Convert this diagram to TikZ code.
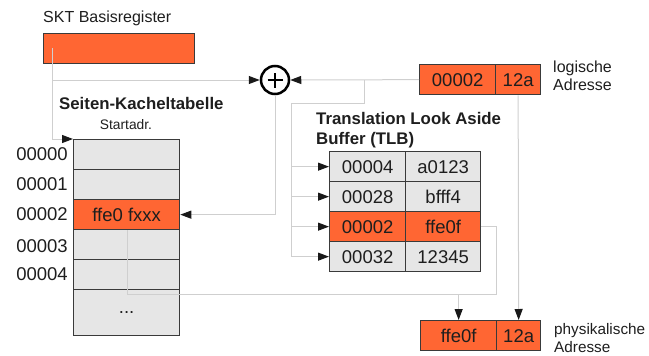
\documentclass[tikz,border=0pt]{standalone}
\usepackage{fontspec}
\setmainfont{Liberation Sans}
\usetikzlibrary{arrows.meta}
\definecolor{org}{HTML}{FF6633}
\definecolor{cellgray}{HTML}{E6E6E6}
\definecolor{edgec}{HTML}{3A3A3A}
\definecolor{connc}{HTML}{CFCFCF}
\definecolor{txt}{HTML}{1E1E1E}
\begin{document}
\begin{tikzpicture}[x=1pt,y=-1pt,
  cell/.style={draw=edgec, line width=1.3pt, fill=cellgray, anchor=north west, inner sep=0pt,
     minimum height=30pt, text=txt, font=\fontsize{18.5}{20}\selectfont},
  ocell/.style={cell, fill=org},
  conn/.style={draw=connc, line width=1pt},
  arr/.style={-{Triangle[length=11pt,width=8pt,color=black!90]}},
  lbl/.style={text=txt, inner sep=0pt, font=\fontsize{16}{18}\selectfont, align=left},
  rowlbl/.style={text=txt, inner sep=0pt, anchor=east, font=\fontsize{18.5}{20}\selectfont}
]
\useasboundingbox (0,0) rectangle (649,356);

% SKT base register
\node[lbl, anchor=west] (sktlbl) at (43,18) {SKT Basisregister};
\node[ocell, minimum width=151pt] (skt) at (43,33) {};

% page table
\node[text=txt, inner sep=0pt, anchor=west, font=\bfseries\fontsize{16.8}{20}\selectfont] (pttitle) at (59,103) {Seiten-Kacheltabelle};
\node[text=txt, inner sep=0pt, font=\fontsize{13.8}{15}\selectfont] (startadr) at (126,125) {Startadr.};
\node[cell, minimum width=106pt] (p0) at (73,139) {};
\node[cell, minimum width=106pt] (p1) at (73,169) {};
\node[ocell, minimum width=106pt] (p2) at (73,199) {ffe0 fxxx};
\node[cell, minimum width=106pt] (p3) at (73,229) {};
\node[cell, minimum width=106pt] (p4) at (73,259) {};
\node[cell, minimum width=106pt, minimum height=46pt] (p5) at (73,289) {...};
\node[rowlbl] (r0) at (68,154) {00000};
\node[rowlbl] (r1) at (68,184) {00001};
\node[rowlbl] (r2) at (68,214) {00002};
\node[rowlbl] (r3) at (68,246) {00003};
\node[rowlbl] (r4) at (68,274) {00004};

% adder
\node[circle, draw=black, line width=2.5pt, minimum size=28pt, inner sep=0pt] (plus) at (275,80) {};
\draw[line width=2.6pt] ([xshift=-7.5pt]plus.center) -- ([xshift=7.5pt]plus.center);
\draw[line width=2.6pt] ([yshift=-7.5pt]plus.center) -- ([yshift=7.5pt]plus.center);

% logical address
\node[ocell, minimum width=76pt] (la) at (419,64) {00002};
\node[ocell, minimum width=45pt] (lb) at (495,64) {12a};
\node[lbl, anchor=west] (loglbl) at (553,76) {logische\\Adresse};

% TLB
\node[text=txt, inner sep=0pt, anchor=north west, align=left, font=\bfseries\fontsize{16.8}{20}\selectfont] (tlbtitle) at (316,112) {Translation Look Aside\\Buffer (TLB)};
\node[cell, minimum width=76pt] (t1a) at (329,151) {00004};
\node[cell, minimum width=75pt] (t1b) at (405,151) {a0123};
\node[cell, minimum width=76pt] (t2a) at (329,181) {00028};
\node[cell, minimum width=75pt] (t2b) at (405,181) {bfff4};
\node[ocell, minimum width=76pt] (t3a) at (329,211) {00002};
\node[ocell, minimum width=75pt] (t3b) at (405,211) {ffe0f};
\node[cell, minimum width=76pt] (t4a) at (329,241) {00032};
\node[cell, minimum width=75pt] (t4b) at (405,241) {12345};

% physical address
\node[ocell, minimum width=76pt] (pa) at (420,320) {ffe0f};
\node[ocell, minimum width=44pt] (pb) at (496,320) {12a};
\node[lbl, anchor=west, font=\fontsize{15.3}{17.5}\selectfont] (physlbl) at (554,338) {physikalische\\Adresse};

% connectors
\coordinate (sktpt) at (52,48);
\coordinate (j1) at (52,80);
\coordinate (j2) at (364,80);
\coordinate (bus) at (291,103);
\coordinate (m) at (496,294);
\coordinate (mp) at (127,294);

\draw[conn, arr] (sktpt) |- (p0.north west);
\draw[conn, arr] (j1) -- (plus.west);
\draw[conn, arr] (la.west) -- (plus.east);
\draw[conn] (j2) |- (bus) -- (bus |- t4a.west);
\draw[conn, arr] (bus |- t1a.west) -- (t1a.west);
\draw[conn, arr] (bus |- t2a.west) -- (t2a.west);
\draw[conn, arr] (bus |- t3a.west) -- (t3a.west);
\draw[conn, arr] (bus |- t4a.west) -- (t4a.west);
\draw[conn, arr] (plus.south) |- (p2.east);
\draw[conn, arr] (lb.south) -- (pb.north);
\draw[conn] (t3b.east) -| (m) -- (mp) -- (p2.south -| mp);
\draw[conn, arr] (pa.north |- m) -- (pa.north);
\end{tikzpicture}
\end{document}
